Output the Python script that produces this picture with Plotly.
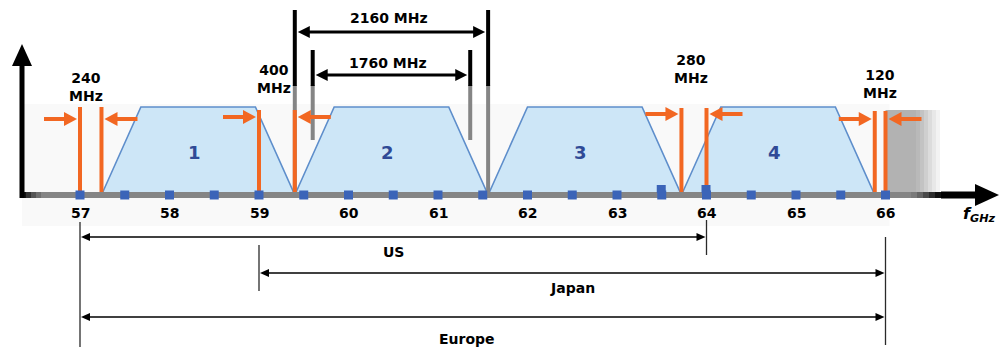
import plotly.graph_objects as go

# ---- data (frequencies in GHz) ----
tick_ghz = [57, 58, 59, 60, 61, 62, 63, 64, 65, 66]
tick_labels = ["57", "58", "59", "60", "61", "62", "63", "64", "65", "66"]

channel_numbers = [1, 2, 3, 4]
channel_center_ghz = [58.32, 60.48, 62.64, 64.80]
channel_spacing_mhz = 2160
channel_occupied_mhz = 1760
channel_flat_top_mhz = 1280

marker_ghz = [57.0, 57.5, 58.0, 58.5, 59.0, 59.5, 60.0, 60.5, 61.0, 61.5,
              62.0, 62.5, 63.0, 63.5, 64.0, 64.5, 65.0, 65.5, 66.0]

guard_labels = ["240<br>MHz", "400<br>MHz", "280<br>MHz", "120<br>MHz"]
guard_low_ghz = [57.00, 59.00, 63.72, 65.88]
guard_high_ghz = [57.24, 59.40, 64.00, 66.00]

region_names = ["US", "Japan", "Europe"]
region_start_ghz = [57, 59, 57]
region_end_ghz = [64, 66, 66]

# ---- layout constants (pixel based vertical scale) ----
W, H = 1001, 349
PX_PER_GHZ = 89.5
X_AT_FIRST_TICK = 80
x_lo = tick_ghz[0] - X_AT_FIRST_TICK / PX_PER_GHZ
x_hi = x_lo + W / PX_PER_GHZ

AXIS_Y = 195
TRAP_TOP_Y = 107
ORANGE = "#f26722"
BLUE_SQ = "#3b64b8"
GRAY = "#858585"


def dx(px):
    return px / PX_PER_GHZ


def at_px(px):
    return x_lo + px / PX_PER_GHZ


shapes = []


def rect(x0, x1, y0, y1, color, layer="above"):
    shapes.append(dict(type="rect", xref="x", yref="y", x0=x0, x1=x1, y0=y0, y1=y1,
                       fillcolor=color, line=dict(width=0), layer=layer))


def seg(x0, y0, x1, y1, color, width, layer="above"):
    shapes.append(dict(type="line", xref="x", yref="y", x0=x0, y0=y0, x1=x1, y1=y1,
                       line=dict(color=color, width=width), layer=layer))


def tri_h(x_tip, y, direction, length_px, half_px, color):
    xb = x_tip - direction * dx(length_px)
    path = f"M {x_tip},{y} L {xb},{y - half_px} L {xb},{y + half_px} Z"
    shapes.append(dict(type="path", xref="x", yref="y", path=path,
                       fillcolor=color, line=dict(width=0), layer="above"))


def tri_v(x, y_tip, length_px, half_px, color):
    yb = y_tip + length_px
    path = f"M {x},{y_tip} L {x - dx(half_px)},{yb} L {x + dx(half_px)},{yb} Z"
    shapes.append(dict(type="path", xref="x", yref="y", path=path,
                       fillcolor=color, line=dict(width=0), layer="above"))


def harrow(x_from, x_to, y, color, width, head_len, head_half):
    d = 1 if x_to > x_from else -1
    seg(x_from, y, x_to - d * dx(head_len * 0.8), y, color, width)
    tri_h(x_to, y, d, head_len, head_half, color)


def dim_arrow(x0, x1, y, color, width, head_len, head_half):
    seg(x0 + dx(head_len * 0.8), y, x1 - dx(head_len * 0.8), y, color, width)
    tri_h(x0, y, -1, head_len, head_half, color)
    tri_h(x1, y, 1, head_len, head_half, color)


# background panels
rect(at_px(22), tick_ghz[-1] + dx(4), 104, 226, "#f9f9f9", layer="below")
rect(tick_ghz[-1], at_px(916), 110, AXIS_Y, "#b2b2b2", layer="below")
for i, c in enumerate(["#b9b9b9", "#c3c3c3", "#cfcfcf", "#dcdcdc", "#e8e8e8", "#f3f3f3"]):
    rect(at_px(916 + 4 * i), at_px(920 + 4 * i), 110, AXIS_Y, c, layer="below")

# channel spacing / occupied bandwidth brackets around channel 2
c2 = channel_center_ghz[1]
sp_lo = c2 - channel_spacing_mhz / 2000
sp_hi = c2 + channel_spacing_mhz / 2000
oc_lo = c2 - channel_occupied_mhz / 2000
oc_hi = c2 + channel_occupied_mhz / 2000

seg(sp_hi, 85, sp_hi, AXIS_Y, GRAY, 4)
seg(sp_lo, 85, sp_lo, AXIS_Y, GRAY, 4)
seg(oc_lo, 85, oc_lo, 140, GRAY, 4)
seg(oc_hi, 85, oc_hi, 140, GRAY, 4)
seg(sp_lo, 10, sp_lo, 86, "black", 4)
seg(sp_hi, 10, sp_hi, 86, "black", 4)
seg(oc_lo, 50, oc_lo, 86, "black", 4)
seg(oc_hi, 50, oc_hi, 86, "black", 4)
dim_arrow(sp_lo + dx(3), sp_hi - dx(3), 32, "black", 3, 12, 6)
dim_arrow(oc_lo + dx(3), oc_hi - dx(3), 75, "black", 3, 12, 6)

# guard-band markers
guard_line_top = [107, 110, 108, 111]
guard_arrow_y = [119, 117, 114, 119]
for lo, hi, yt, ya in zip(guard_low_ghz, guard_high_ghz, guard_line_top, guard_arrow_y):
    seg(lo, yt, lo, AXIS_Y, ORANGE, 4)
    seg(hi, yt, hi, AXIS_Y, ORANGE, 4)
    harrow(lo - dx(36), lo - dx(3), ya, ORANGE, 4, 13, 7)
    harrow(hi + dx(36), hi + dx(3), ya, ORANGE, 4, 13, 7)

# frequency axis with darkened ends
seg(at_px(40), AXIS_Y, at_px(912), AXIS_Y, GRAY, 6)
for i, c in enumerate(["#111111", "#333333", "#555555", "#6f6f6f"]):
    seg(at_px(21 + 5 * i), AXIS_Y, at_px(26 + 5 * i), AXIS_Y, c, 6)
for i, c in enumerate(["#7a7a7a", "#656565", "#4a4a4a", "#2c2c2c", "#111111"]):
    seg(at_px(911 + 6 * i), AXIS_Y, at_px(917 + 6 * i), AXIS_Y, c, 6)
seg(at_px(941), AXIS_Y, at_px(978), AXIS_Y, "black", 7)
tri_h(at_px(999), AXIS_Y, 1, 24, 11, "black")

# vertical axis
seg(at_px(22), AXIS_Y + 3, at_px(22), 62, "black", 5)
tri_v(at_px(22), 44, 22, 10, "black")

# channel raster markers on the axis
for f in marker_ghz:
    rect(f - dx(4.5), f + dx(4.5), AXIS_Y - 4.5, AXIS_Y + 4.5, BLUE_SQ)
for f in [63.5, 64.0]:
    rect(f - dx(5), f + dx(4), AXIS_Y - 10, AXIS_Y - 2, BLUE_SQ)

# regional allocations
ext_lines = [(57, 222, 347), (64, 220, 255), (59, 245, 291), (66, 237, 345)]
for f, y0, y1 in ext_lines:
    seg(f, y0, f, y1, "#2a2a2a", 1.3)
region_y = [237, 273, 317]
for s, e, y in zip(region_start_ghz, region_end_ghz, region_y):
    dim_arrow(s + dx(1), e - dx(1), y, "black", 1.3, 9, 4)

# ---- traces: channel masks ----
fig = go.Figure()
for c in channel_center_ghz:
    half_b = channel_spacing_mhz / 2000
    half_t = channel_flat_top_mhz / 2000
    fig.add_trace(go.Scatter(
        x=[c - half_b, c - half_t, c + half_t, c + half_b, c - half_b],
        y=[AXIS_Y, TRAP_TOP_Y, TRAP_TOP_Y, AXIS_Y, AXIS_Y],
        mode="lines", fill="toself", fillcolor="#cde6f7",
        line=dict(color="#5e8ecb", width=1.6), hoverinfo="skip"))

# ---- text ----
annotations = []


def label(x, y, text, size, color="black", xanchor="center"):
    annotations.append(dict(x=x, y=y, xref="x", yref="y", text=text, showarrow=False,
                            xanchor=xanchor, yanchor="middle",
                            font=dict(family="DejaVu Sans", size=size, color=color)))


for n, c in zip(channel_numbers, channel_center_ghz):
    label(c - dx(4), 152, f"<b>{n}</b>", 18, "#2f4a96")

for f, t in zip(tick_ghz, tick_labels):
    label(f, 213, f"<b>{t}</b>", 14)

guard_label_y = [87, 79, 69, 84]
guard_label_dx = [-5, -3, -3, 0]
for t, lo, hi, y, ox in zip(guard_labels, guard_low_ghz, guard_high_ghz, guard_label_y, guard_label_dx):
    label((lo + hi) / 2 + dx(ox), y, f"<b>{t}</b>", 14)

label((sp_lo + sp_hi) / 2 - dx(2), 18, f"<b>{channel_spacing_mhz} MHz</b>", 14)
label((oc_lo + oc_hi) / 2 - dx(3), 63, f"<b>{channel_occupied_mhz} MHz</b>", 14)

region_label_dy = [15, 15, 22]
region_label_dx = [0, 0, -16]
for name, s, e, y, oy, ox in zip(region_names, region_start_ghz, region_end_ghz,
                                 region_y, region_label_dy, region_label_dx):
    label((s + e) / 2 + dx(ox), y + oy, f"<b>{name}</b>", 14)

label(at_px(979), 214, "<b><i>f</i></b><sub><b><i>GHz</i></b></sub>", 16)

fig.update_layout(
    width=W, height=H, margin=dict(l=0, r=0, t=0, b=0),
    paper_bgcolor="white", plot_bgcolor="white", showlegend=False,
    xaxis=dict(range=[x_lo, x_hi], visible=False, fixedrange=True),
    yaxis=dict(range=[H, 0], visible=False, fixedrange=True),
    shapes=shapes, annotations=annotations,
)

fig.write_html("out.html")
